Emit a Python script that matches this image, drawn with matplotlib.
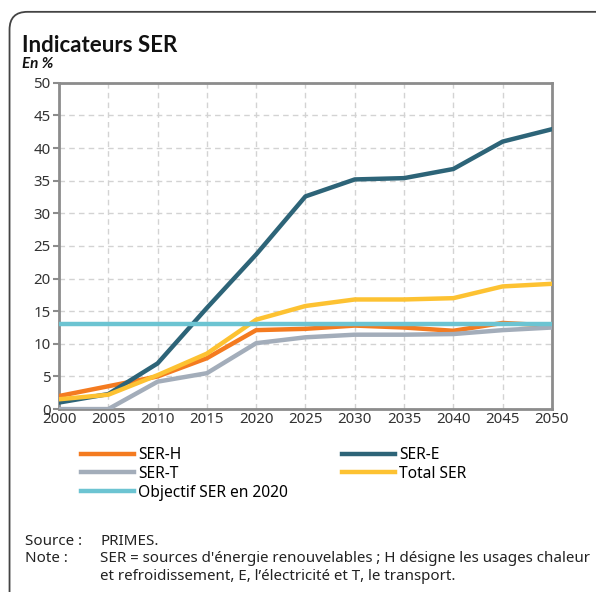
import matplotlib.pyplot as plt
from matplotlib.patches import FancyBboxPatch

plt.rcParams['font.family'] = ['Noto Sans', 'DejaVu Sans']

years = [2000, 2005, 2010, 2015, 2020, 2025, 2030, 2035, 2040, 2045, 2050]
ser_h = [2.0, 3.5, 5.0, 7.8, 12.1, 12.3, 12.8, 12.5, 12.0, 13.2, 12.8]
ser_e = [1.0, 2.3, 7.0, 15.5, 23.7, 32.6, 35.2, 35.4, 36.8, 41.0, 42.9]
ser_t = [0.0, 0.0, 4.2, 5.5, 10.1, 11.0, 11.4, 11.4, 11.5, 12.1, 12.5]
total = [1.5, 2.2, 5.2, 8.5, 13.7, 15.8, 16.8, 16.8, 17.0, 18.8, 19.2]
objectif = [13] * len(years)

fig = plt.figure(figsize=(5.96, 5.92), dpi=100)
ax = fig.add_axes([0.099, 0.309, 0.827, 0.551])

lw = 3.2
l_h, = ax.plot(years, ser_h, color='#F47B20', lw=lw, label='SER-H', zorder=3)
l_e, = ax.plot(years, ser_e, color='#2D6478', lw=lw, label='SER-E', zorder=3)
l_t, = ax.plot(years, ser_t, color='#A3ADBA', lw=lw, label='SER-T', zorder=3)
l_tot, = ax.plot(years, total, color='#FDC232', lw=lw, label='Total SER', zorder=3)
l_o, = ax.plot(years, objectif, color='#6CC4D2', lw=lw, label='Objectif SER en 2020', zorder=4)

ax.set_xlim(2000, 2050)
ax.set_ylim(0, 50)
ax.set_xticks(years)
ax.set_yticks(range(0, 51, 5))
ax.grid(True, ls=(0, (4, 3)), color='#D3D3D3', lw=1)
ax.set_axisbelow(True)
for s in ax.spines.values():
    s.set_color('#8C8C8C')
    s.set_linewidth(2)
ax.tick_params(axis='both', labelsize=10.8, colors='#8C8C8C', labelcolor='#333333')
ax.tick_params(axis='x', length=0, pad=2)
ax.tick_params(axis='y', length=4, width=1.5, pad=2)

# column-first filling: H, T, Objectif | E, Total
fig.legend(handles=[l_h, l_t, l_o, l_e, l_tot], loc='upper left',
           bbox_to_anchor=(0.126, 0.255), ncol=2, frameon=False,
           fontsize=11.2, handlelength=3.4, handletextpad=0.25,
           columnspacing=3.5, labelspacing=0.17, borderaxespad=0)

fig.text(0.037, 0.913, 'Indicateurs SER', fontsize=16, fontweight='bold',
         color='#111111', family=['Lato', 'DejaVu Sans'])
fig.text(0.037, 0.885, 'En %', fontsize=11, fontweight='bold', style='italic',
         color='#111111', family=['Lato', 'DejaVu Sans'])

tc = '#222222'
fs = 10.9
fig.text(0.042, 0.086, 'Source :', fontsize=fs, color=tc, va='center')
fig.text(0.168, 0.086, 'PRIMES.', fontsize=fs, color=tc, va='center')
fig.text(0.042, 0.056, 'Note :', fontsize=fs, color=tc, va='center')
fig.text(0.168, 0.056, "SER = sources d'énergie renouvelables ; H désigne les usages chaleur",
         fontsize=fs, color=tc, va='center')
fig.text(0.168, 0.026, "et refroidissement, E, l’électricité et T, le transport.",
         fontsize=fs, color=tc, va='center')

frame = FancyBboxPatch((0.016, -0.05), 1.2, 1.03, transform=fig.transFigure,
                       boxstyle='round,pad=0,rounding_size=0.03', fill=False,
                       ec='#444444', lw=1.3, clip_on=False)
fig.patches.append(frame)

fig.savefig('out.png', dpi=100)
